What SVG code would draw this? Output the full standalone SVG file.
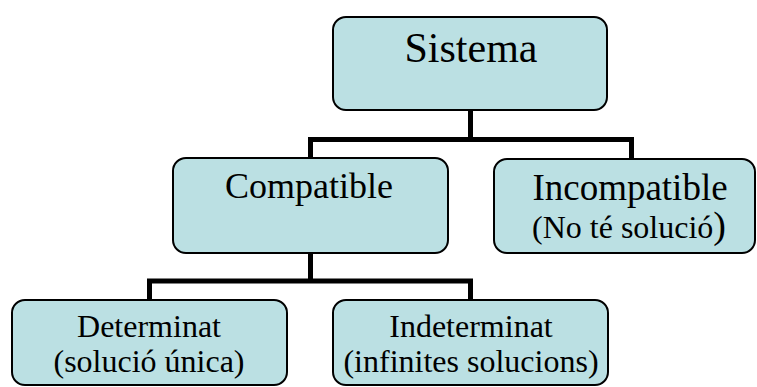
<svg xmlns="http://www.w3.org/2000/svg" width="757" height="387" viewBox="0 0 757 387">
<style>
.box{fill:#BBE0E3;stroke:#000;stroke-width:2}
.t{font-family:'Liberation Serif',Tinos,'Times New Roman','DejaVu Serif',serif;fill:#000;text-anchor:middle}
.c{fill:none;stroke:#000;stroke-width:5;stroke-linejoin:miter;stroke-linecap:butt}
</style>
<rect width="757" height="387" fill="#fff"/>
<g id="connectors">
<path class="c" d="M470.5,110 V139.5 M310.5,160 V139.5 H631.5 V160"/>
<path class="c" d="M310.5,253 V281 M149.5,302 V281 H470.5 V302"/>
</g>
<g id="sistema">
<rect class="box" x="333" y="17" width="274" height="93" rx="13"/>
<text class="t" x="471" y="62" font-size="42">Sistema</text>
</g>
<g id="compatible">
<rect class="box" x="173" y="158" width="275" height="95" rx="13"/>
<text class="t" x="309" y="198" font-size="36">Compatible</text>
</g>
<g id="incompatible">
<rect class="box" x="494" y="159" width="261" height="94" rx="13"/>
<text class="t" x="630" y="200" font-size="37">Incompatible</text>
<text class="t" x="629" y="238" font-size="32">(No té solució<tspan font-size="38">)</tspan></text>
</g>
<g id="determinat">
<rect class="box" x="12" y="300" width="275" height="85" rx="13"/>
<text class="t" x="149" y="337" font-size="32">Determinat</text>
<text class="t" x="149" y="372" font-size="32">(solució única)</text>
</g>
<g id="indeterminat">
<rect class="box" x="333" y="300" width="275" height="85" rx="13"/>
<text class="t" x="471" y="337" font-size="32">Indeterminat</text>
<text class="t" x="471" y="372" font-size="32">(infinites solucions)</text>
</g>
</svg>
